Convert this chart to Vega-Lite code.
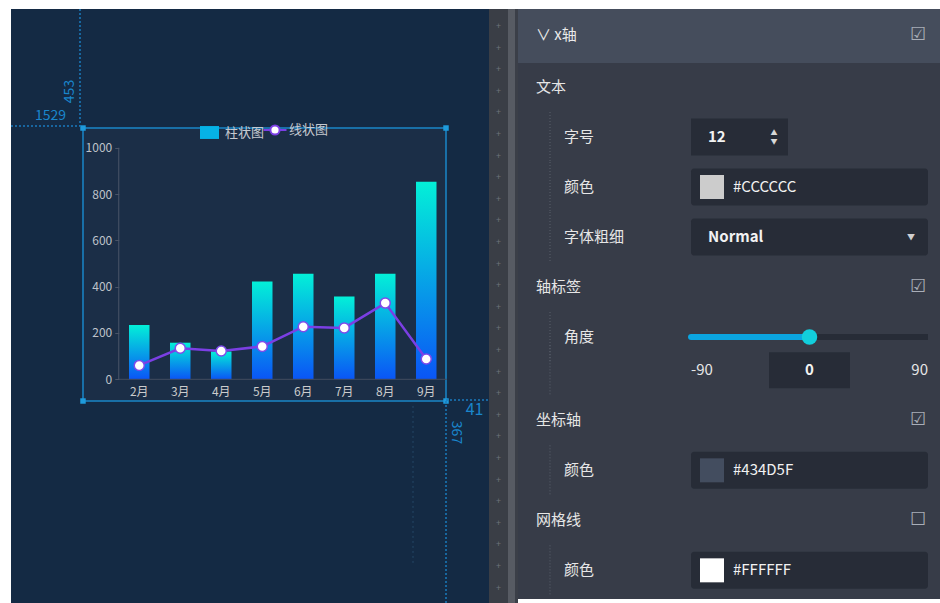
{
  "$schema": "https://vega.github.io/schema/vega-lite/v6.json",
  "background": "#FFFFFF",
  "padding": {"left": 10, "top": 8, "right": 0, "bottom": 0},
  "spacing": 0,
  "bounds": "flush",
  "config": {"view": {"stroke": null}, "font": "Noto Sans CJK SC", "concat": {"spacing": 0}},
  "resolve": {"scale": {"fill": "independent", "stroke": "independent"}, "legend": {"fill": "independent", "stroke": "independent"}},
  "datasets": {
    "chart": [
      {"m": "2月", "bar": 235, "line": 60},
      {"m": "3月", "bar": 158, "line": 134},
      {"m": "4月", "bar": 120, "line": 122},
      {"m": "5月", "bar": 422, "line": 142},
      {"m": "6月", "bar": 456, "line": 227},
      {"m": "7月", "bar": 357, "line": 222},
      {"m": "8月", "bar": 456, "line": 329},
      {"m": "9月", "bar": 853, "line": 88}
    ],
    "panel": [
      {"i": "r0", "label": "文本", "lvl": "section"},
      {"i": "r1", "label": "字号", "lvl": "item", "ctl": "num", "val": "12"},
      {"i": "r2", "label": "颜色", "lvl": "item", "ctl": "color", "val": "#CCCCCC"},
      {"i": "r3", "label": "字体粗细", "lvl": "item", "ctl": "select", "val": "Normal"},
      {"i": "r4", "label": "轴标签", "lvl": "section", "checked": true},
      {"i": "r5", "label": "角度", "lvl": "item", "ctl": "slider", "min": -90, "max": 90, "angle": 0},
      {"i": "r6", "label": "", "lvl": "item", "ctl": "nums", "min": -90, "max": 90, "angle": 0},
      {"i": "r7", "label": "坐标轴", "lvl": "section", "checked": true},
      {"i": "r8", "label": "颜色", "lvl": "item", "ctl": "color", "val": "#434D5F"},
      {"i": "r9", "label": "网格线", "lvl": "section", "checked": false},
      {"i": "r10", "label": "颜色", "lvl": "item", "ctl": "color", "val": "#FFFFFF"}
    ]
  },
  "hconcat": [
    {
      "width": 478,
      "height": 595,
      "view": {"fill": "#142A44", "stroke": null},
      "data": {"name": "chart"},
      "layer": [
        {
          "data": {"values": [{}]},
          "mark": {"type": "rect", "fill": "#1B2E47", "stroke": "#1A86C8", "strokeWidth": 1.5},
          "encoding": {
            "x": {
              "datum": "2月", "type": "nominal", "bandPosition": -2.244,
              "scale": {"domain": ["2月", "3月", "4月", "5月", "6月", "7月", "8月", "9月"], "range": [107.75, 435.75], "paddingInner": 0.5, "paddingOuter": 0.25, "align": 0.5, "round": false},
              "axis": {"orient": "bottom", "offset": -224.7, "domain": false, "ticks": false, "tickSize": 0, "labelPadding": 7, "labelColor": "#CCCCCC", "labelFontSize": 12, "labelAngle": 0, "title": null, "grid": false, "zindex": 1}
            },
            "x2": {"datum": "9月", "bandPosition": 1.4634},
            "y": {
              "datum": 1085, "type": "quantitative",
              "scale": {"domain": [-970.2, 1598.9], "nice": false, "zero": false},
              "axis": {"orient": "left", "offset": -107.75, "values": [0, 200, 400, 600, 800, 1000], "format": "d", "domain": false, "ticks": true, "tickSize": 4, "tickColor": "#4A5467", "labelPadding": 3, "labelColor": "#BFC3CA", "labelFontSize": 12, "title": null, "grid": false, "zindex": 1}
            },
            "y2": {"datum": -93.7}
          }
        },
        {
          "mark": {"type": "bar", "color": {"gradient": "linear", "x1": 0, "y1": 0, "x2": 0, "y2": 1, "stops": [{"offset": 0, "color": "#03F0D8"}, {"offset": 1, "color": "#0A55F6"}]}},
          "encoding": {
            "x": {"field": "m", "type": "nominal"},
            "y": {"field": "bar", "type": "quantitative"},
            "y2": {"datum": 0}
          }
        },
        {
          "data": {"values": [{}]},
          "mark": {"type": "rule", "stroke": "#4A5467", "strokeWidth": 1},
          "encoding": {
            "x": {"datum": "2月", "type": "nominal", "bandPosition": -0.5},
            "y": {"datum": 0, "type": "quantitative"},
            "y2": {"datum": 1000}
          }
        },
        {
          "data": {"values": [{}]},
          "mark": {"type": "rule", "stroke": "#434D5F", "strokeWidth": 1},
          "encoding": {
            "x": {"datum": "2月", "type": "nominal", "bandPosition": -0.5},
            "x2": {"datum": "9月", "bandPosition": 1.5},
            "y": {"datum": 0, "type": "quantitative"}
          }
        },
        {
          "mark": {"type": "line", "strokeWidth": 2.5},
          "encoding": {
            "x": {"field": "m", "type": "nominal"},
            "y": {"field": "line", "type": "quantitative"},
            "stroke": {
              "datum": "线状图", "type": "nominal",
              "scale": {"range": ["#7B3FE4"]},
              "legend": {"orient": "none", "legendX": 257, "legendY": 114, "title": null, "symbolType": "M-2,0H-0.8M0.8,0H2M0.8,0A0.8,0.8,0,1,1,-0.8,0A0.8,0.8,0,1,1,0.8,0", "symbolSize": 132, "symbolStrokeWidth": 2, "symbolFillColor": "#FFFFFF", "labelOffset": 7, "labelColor": "#C5C9D0", "labelFontSize": 13}
            }
          }
        },
        {
          "mark": {"type": "point", "filled": true, "fill": "#FFFFFF", "stroke": "#7E4BEA", "strokeWidth": 1.5, "size": 100, "opacity": 1},
          "encoding": {
            "x": {"field": "m", "type": "nominal"},
            "y": {"field": "line", "type": "quantitative"}
          }
        },
        {
          "mark": {"type": "point", "filled": true, "opacity": 0},
          "encoding": {
            "x": {"field": "m", "type": "nominal"},
            "y": {"field": "bar", "type": "quantitative"},
            "fill": {
              "datum": "柱状图", "type": "nominal",
              "scale": {"range": ["#06B2E6"]},
              "legend": {
                "orient": "none", "legendX": 189, "legendY": 114, "title": null,
                "symbolType": "M-1,-0.68H1V0.68H-1Z", "symbolSize": 361, "symbolOpacity": 1, "symbolStrokeWidth": 0,
                "labelOffset": 6, "labelColor": "#C5C9D0", "labelFontSize": 13,
                "encode": {"symbols": {"update": {"fill": {"value": {"gradient": "linear", "x1": 0, "y1": 0, "x2": 0, "y2": 1, "stops": [{"offset": 0, "color": "#03E6DA"}, {"offset": 1, "color": "#0A6CF2"}]}}}}}
              }
            }
          }
        },
        {
          "data": {"values": [{}]},
          "mark": {"type": "point", "shape": "square", "filled": true, "size": 30, "color": "#1E9BDC", "opacity": 1},
          "encoding": {"x": {"datum": "2月", "type": "nominal", "bandPosition": -2.244}, "y": {"datum": 1085, "type": "quantitative"}}
        },
        {
          "data": {"values": [{}]},
          "mark": {"type": "point", "shape": "square", "filled": true, "size": 30, "color": "#1E9BDC", "opacity": 1},
          "encoding": {"x": {"datum": "9月", "type": "nominal", "bandPosition": 1.4634}, "y": {"datum": 1085, "type": "quantitative"}}
        },
        {
          "data": {"values": [{}]},
          "mark": {"type": "point", "shape": "square", "filled": true, "size": 30, "color": "#1E9BDC", "opacity": 1},
          "encoding": {"x": {"datum": "2月", "type": "nominal", "bandPosition": -2.244}, "y": {"datum": -93.7, "type": "quantitative"}}
        },
        {
          "data": {"values": [{}]},
          "mark": {"type": "point", "shape": "square", "filled": true, "size": 30, "color": "#1E9BDC", "opacity": 1},
          "encoding": {"x": {"datum": "9月", "type": "nominal", "bandPosition": 1.4634}, "y": {"datum": -93.7, "type": "quantitative"}}
        },
        {
          "data": {"values": [{}]},
          "mark": {"type": "rule", "stroke": "#1A7BBE", "strokeWidth": 1.5, "strokeDash": [2, 2]},
          "encoding": {"x": {"datum": "2月", "type": "nominal", "bandPosition": -2.39}, "y": {"datum": 1598.9, "type": "quantitative"}, "y2": {"datum": 1093.7}}
        },
        {
          "data": {"values": [{}]},
          "mark": {"type": "rule", "stroke": "#1A7BBE", "strokeWidth": 1.5, "strokeDash": [2, 2]},
          "encoding": {"x": {"datum": "2月", "type": "nominal", "bandPosition": -5.756}, "x2": {"datum": "2月", "bandPosition": -2.39}, "y": {"datum": 1093.7, "type": "quantitative"}}
        },
        {
          "data": {"values": [{}]},
          "mark": {"type": "rule", "stroke": "#1A7BBE", "strokeWidth": 1.5, "strokeDash": [2, 2]},
          "encoding": {"x": {"datum": "9月", "type": "nominal", "bandPosition": 1.4634}, "y": {"datum": -93.7, "type": "quantitative"}, "y2": {"datum": -970.2}}
        },
        {
          "data": {"values": [{}]},
          "mark": {"type": "rule", "stroke": "#1A7BBE", "strokeWidth": 1.5, "strokeDash": [2, 2]},
          "encoding": {"x": {"datum": "9月", "type": "nominal", "bandPosition": 1.4634}, "x2": {"datum": "9月", "bandPosition": 3.561}, "y": {"datum": -89.4, "type": "quantitative"}}
        },
        {
          "data": {"values": [{}]},
          "mark": {"type": "rule", "stroke": "#244766", "strokeWidth": 1, "strokeDash": [2, 3]},
          "encoding": {"x": {"datum": "9月", "type": "nominal", "bandPosition": -0.146}, "y": {"datum": -115, "type": "quantitative"}, "y2": {"datum": -806}}
        },
        {
          "data": {"values": [{"t": "453"}]},
          "mark": {"type": "text", "angle": 270, "fontSize": 14, "color": "#1A86CC", "align": "center", "baseline": "middle"},
          "encoding": {"x": {"datum": "2月", "type": "nominal", "bandPosition": -2.854}, "y": {"datum": 1242.7, "type": "quantitative"}, "text": {"field": "t"}}
        },
        {
          "data": {"values": [{"t": "1529"}]},
          "mark": {"type": "text", "fontSize": 14, "color": "#1A86CC", "align": "center", "baseline": "middle"},
          "encoding": {"x": {"datum": "2月", "type": "nominal", "bandPosition": -3.829}, "y": {"datum": 1136.9, "type": "quantitative"}, "text": {"field": "t"}}
        },
        {
          "data": {"values": [{"t": "41"}]},
          "mark": {"type": "text", "fontSize": 16, "color": "#1A86CC", "align": "center", "baseline": "middle"},
          "encoding": {"x": {"datum": "9月", "type": "nominal", "bandPosition": 2.854}, "y": {"datum": -132.6, "type": "quantitative"}, "text": {"field": "t"}}
        },
        {
          "data": {"values": [{"t": "367"}]},
          "mark": {"type": "text", "angle": 90, "fontSize": 14, "color": "#1A86CC", "align": "center", "baseline": "middle"},
          "encoding": {"x": {"datum": "9月", "type": "nominal", "bandPosition": 1.951}, "y": {"datum": -229.7, "type": "quantitative"}, "text": {"field": "t"}}
        }
      ]
    },
    {
      "width": 19,
      "height": 595,
      "view": {"fill": "#3A3E46", "stroke": null},
      "data": {"values": [{}]},
      "mark": {"type": "text", "text": ["+", "+", "+", "+", "+", "+", "+", "+", "+", "+", "+", "+", "+", "+", "+", "+", "+", "+", "+", "+", "+", "+", "+", "+", "+", "+", "+"], "lineHeight": 21.6, "fontSize": 9, "color": "#6E727A", "align": "center", "baseline": "middle", "dy": -280.5}
    },
    {
      "width": 7,
      "height": 595,
      "view": {"fill": "#575B63", "stroke": null},
      "data": {"values": [{}]},
      "mark": {"type": "text", "text": ""}
    },
    {
      "width": 3,
      "height": 595,
      "view": {"fill": "#3B3F48", "stroke": null},
      "data": {"values": [{}]},
      "mark": {"type": "text", "text": ""}
    },
    {
      "spacing": 0,
      "bounds": "flush",
      "vconcat": [
        {
          "width": 423,
          "height": 49,
          "view": {"fill": "#454D5C", "stroke": null},
          "data": {"values": [{"k": "title", "t": "∨ x轴"}, {"k": "check", "t": "☑"}]},
          "encoding": {
            "x": {"field": "k", "type": "nominal", "scale": {"type": "point", "domain": ["title", "check"], "range": [18, 400], "padding": 0}, "axis": null},
            "text": {"field": "t"}
          },
          "layer": [
            {"transform": [{"filter": "datum.k == 'title'"}], "mark": {"type": "text", "align": "left", "baseline": "middle", "fontSize": 15, "color": "#EAEAEA", "dy": 1}},
            {"transform": [{"filter": "datum.k == 'check'"}], "mark": {"type": "text", "align": "center", "baseline": "middle", "fontSize": 18, "color": "#A9AEB8", "dy": 1}}
          ]
        },
        {
          "spacing": 0,
          "bounds": "flush",
          "hconcat": [
            {
              "width": 173,
              "height": 541,
              "view": {"fill": "#373C48", "stroke": null},
              "data": {"name": "panel"},
              "encoding": {"y": {"field": "i", "type": "ordinal", "scale": {"type": "band", "domain": ["t0", "r0", "s1", "s2", "r1", "s3", "s4", "r2", "s5", "s6", "r3", "s7", "s8", "r4", "s9", "s10", "r5", "s11", "r6", "s12", "s13", "r7", "s14", "s15", "r8", "s16", "s17", "r9", "s18", "s19", "r10", "t1"], "paddingInner": 0, "paddingOuter": 0.23, "align": 0.5217}, "axis": null}},
              "layer": [
                {
                  "transform": [{"filter": "datum.lvl == 'item'"}],
                  "mark": {"type": "point", "shape": "M0,-1V1", "size": 2500, "filled": false, "color": "#5B616C", "stroke": "#5B616C", "strokeWidth": 1, "strokeDash": [1, 2], "opacity": 1},
                  "encoding": {"x": {"datum": "guide", "type": "nominal", "scale": {"type": "point", "domain": ["section", "guide", "item"], "range": [18, 46], "padding": 0}, "axis": null}}
                },
                {
                  "mark": {"type": "text", "align": "left", "baseline": "middle", "fontSize": 15, "color": "#E6E6E6"},
                  "encoding": {"x": {"field": "lvl", "type": "nominal", "axis": null}, "text": {"field": "label"}}
                }
              ]
            },
            {
              "width": 237,
              "height": 541,
              "view": {"fill": "#373C48", "stroke": null},
              "data": {"name": "panel"},
              "resolve": {"scale": {"x": "independent"}},
              "encoding": {"y": {"field": "i", "type": "ordinal", "scale": {"type": "band", "domain": ["t0", "r0", "s1", "s2", "r1", "s3", "s4", "r2", "s5", "s6", "r3", "s7", "s8", "r4", "s9", "s10", "r5", "s11", "r6", "s12", "s13", "r7", "s14", "s15", "r8", "s16", "s17", "r9", "s18", "s19", "r10", "t1"], "paddingInner": 0, "paddingOuter": 0.23, "align": 0.5217}, "axis": null}},
              "layer": [
                {
                  "transform": [{"filter": "datum.ctl == 'color' || datum.ctl == 'select'"}],
                  "mark": {"type": "point", "shape": "M-0.9747,-0.1561H0.9747A0.0253,0.0253,0,0,1,1,-0.1308V0.1308A0.0253,0.0253,0,0,1,0.9747,0.1561H-0.9747A0.0253,0.0253,0,0,1,-1,0.1308V-0.1308A0.0253,0.0253,0,0,1,-0.9747,-0.1561Z", "size": 56169, "filled": true, "color": "#272C37", "opacity": 1}
                },
                {
                  "transform": [{"filter": "datum.ctl == 'num'"}],
                  "mark": {"type": "point", "shape": "M-0.433,-0.381H1.567V0.381H-0.433Z", "size": 9409, "filled": true, "color": "#272C37", "opacity": 1},
                  "encoding": {"x": {"datum": "a", "type": "nominal", "scale": {"type": "point", "domain": ["a", "b"], "range": [21, 227], "padding": 0}, "axis": null}}
                },
                {
                  "transform": [{"filter": "datum.ctl == 'color'"}],
                  "mark": {"type": "point", "shape": "square", "size": 576, "filled": true, "opacity": 1},
                  "encoding": {
                    "x": {"datum": "a", "type": "nominal", "scale": {"type": "point", "domain": ["a", "b"], "range": [21, 227], "padding": 0}, "axis": null},
                    "fill": {"field": "val", "type": "nominal", "scale": null}
                  }
                },
                {
                  "transform": [{"filter": "datum.ctl == 'color'"}],
                  "mark": {"type": "text", "align": "left", "baseline": "middle", "fontSize": 15, "color": "#F2F2F2", "dx": 21},
                  "encoding": {
                    "x": {"datum": "a", "type": "nominal", "scale": {"type": "point", "domain": ["a", "b"], "range": [21, 227], "padding": 0}, "axis": null},
                    "text": {"field": "val"}
                  }
                },
                {
                  "transform": [{"filter": "datum.ctl == 'num' || datum.ctl == 'select'"}],
                  "mark": {"type": "text", "align": "left", "baseline": "middle", "fontSize": 15, "fontWeight": "bold", "color": "#F2F2F2", "dx": -4},
                  "encoding": {
                    "x": {"datum": "a", "type": "nominal", "scale": {"type": "point", "domain": ["a", "b"], "range": [21, 227], "padding": 0}, "axis": null},
                    "text": {"field": "val"}
                  }
                },
                {
                  "transform": [{"filter": "datum.ctl == 'num'"}],
                  "mark": {"type": "text", "text": "▲", "align": "center", "baseline": "middle", "fontSize": 7, "color": "#D8D8D8", "dx": 62, "dy": -4},
                  "encoding": {"x": {"datum": "a", "type": "nominal", "scale": {"type": "point", "domain": ["a", "b"], "range": [21, 227], "padding": 0}, "axis": null}}
                },
                {
                  "transform": [{"filter": "datum.ctl == 'num'"}],
                  "mark": {"type": "text", "text": "▼", "align": "center", "baseline": "middle", "fontSize": 7, "color": "#D8D8D8", "dx": 62, "dy": 5},
                  "encoding": {"x": {"datum": "a", "type": "nominal", "scale": {"type": "point", "domain": ["a", "b"], "range": [21, 227], "padding": 0}, "axis": null}}
                },
                {
                  "transform": [{"filter": "datum.ctl == 'select'"}],
                  "mark": {"type": "text", "text": "▼", "align": "center", "baseline": "middle", "fontSize": 8, "color": "#D0D0D0", "dx": -7, "dy": 1},
                  "encoding": {"x": {"datum": "b", "type": "nominal", "scale": {"type": "point", "domain": ["a", "b"], "range": [21, 227], "padding": 0}, "axis": null}}
                },
                {
                  "transform": [{"filter": "datum.lvl == 'section' && isValid(datum.checked)"}],
                  "mark": {"type": "text", "align": "center", "baseline": "middle", "fontSize": 18, "color": "#A9AEB8"},
                  "encoding": {
                    "x": {"datum": "b", "type": "nominal", "scale": {"type": "point", "domain": ["a", "b"], "range": [21, 227], "padding": 0}, "axis": null},
                    "text": {"condition": {"test": "datum.checked", "value": "☑"}, "value": "☐"}
                  }
                },
                {
                  "transform": [{"filter": "datum.ctl == 'slider'"}],
                  "mark": {"type": "rule", "strokeWidth": 6, "strokeCap": "round", "color": "#272C37"},
                  "encoding": {
                    "x": {"field": "min", "type": "quantitative", "scale": {"domain": [-90, 90], "nice": false, "zero": false}, "axis": null},
                    "x2": {"field": "max"}
                  }
                },
                {
                  "transform": [{"filter": "datum.ctl == 'slider'"}],
                  "mark": {"type": "rule", "strokeWidth": 6, "strokeCap": "round", "color": "#0BA5E0"},
                  "encoding": {
                    "x": {"field": "min", "type": "quantitative", "scale": {"domain": [-90, 90], "nice": false, "zero": false}, "axis": null},
                    "x2": {"field": "angle"}
                  }
                },
                {
                  "transform": [{"filter": "datum.ctl == 'slider'"}],
                  "mark": {"type": "point", "shape": "circle", "size": 240, "filled": true, "color": "#12CEDC", "opacity": 1},
                  "encoding": {"x": {"field": "angle", "type": "quantitative", "scale": {"domain": [-90, 90], "nice": false, "zero": false}, "axis": null}}
                },
                {
                  "transform": [{"filter": "datum.ctl == 'nums'"}],
                  "mark": {"type": "point", "shape": "M-1,-0.444H1V0.444H-1Z", "size": 6561, "filled": true, "color": "#272C37", "opacity": 1},
                  "encoding": {"x": {"field": "angle", "type": "quantitative", "scale": {"domain": [-90, 90], "nice": false, "zero": false}, "axis": null}}
                },
                {
                  "transform": [{"filter": "datum.ctl == 'nums'"}],
                  "mark": {"type": "text", "align": "left", "baseline": "middle", "fontSize": 15, "color": "#E6E6E6"},
                  "encoding": {
                    "x": {"field": "min", "type": "quantitative", "scale": {"domain": [-90, 90], "nice": false, "zero": false}, "axis": null},
                    "text": {"field": "min", "type": "nominal"}
                  }
                },
                {
                  "transform": [{"filter": "datum.ctl == 'nums'"}],
                  "mark": {"type": "text", "align": "right", "baseline": "middle", "fontSize": 15, "color": "#E6E6E6"},
                  "encoding": {
                    "x": {"field": "max", "type": "quantitative", "scale": {"domain": [-90, 90], "nice": false, "zero": false}, "axis": null},
                    "text": {"field": "max", "type": "nominal"}
                  }
                },
                {
                  "transform": [{"filter": "datum.ctl == 'nums'"}],
                  "mark": {"type": "text", "align": "center", "baseline": "middle", "fontSize": 15, "fontWeight": "bold", "color": "#F2F2F2"},
                  "encoding": {
                    "x": {"field": "angle", "type": "quantitative", "scale": {"domain": [-90, 90], "nice": false, "zero": false}, "axis": null},
                    "text": {"field": "angle", "type": "nominal"}
                  }
                }
              ]
            },
            {
              "width": 13,
              "height": 541,
              "view": {"fill": "#373C48", "stroke": null},
              "data": {"values": [{}]},
              "mark": {"type": "text", "text": ""}
            }
          ]
        },
        {
          "width": 423,
          "height": 5,
          "view": {"fill": "#454D5C", "stroke": null},
          "data": {"values": [{}]},
          "mark": {"type": "text", "text": ""}
        }
      ]
    }
  ]
}
